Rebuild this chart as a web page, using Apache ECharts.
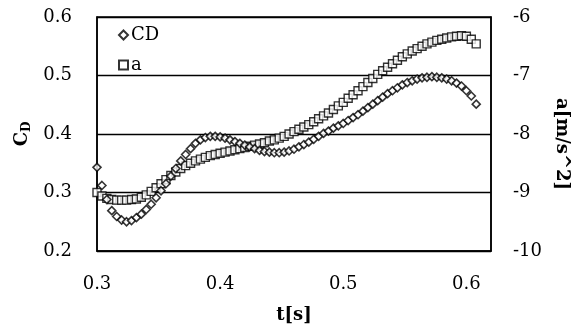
<!DOCTYPE html>
<html>
<head>
<meta charset="utf-8">
<script src="https://cdn.jsdelivr.net/npm/echarts@6/dist/echarts.min.js"></script>
<style>
  html, body { margin: 0; padding: 0; background: #fff; }
  #chart { width: 579px; height: 329px; }
</style>
</head>
<body>
<div id="chart"></div>
<script>
// Sample times [s], 4 ms step
const times = [
  0.300, 0.304, 0.308, 0.312, 0.316, 0.320, 0.324, 0.328, 0.332, 0.336,
  0.340, 0.344, 0.348, 0.352, 0.356, 0.360, 0.364, 0.368, 0.372, 0.376,
  0.380, 0.384, 0.388, 0.392, 0.396, 0.400, 0.404, 0.408, 0.412, 0.416,
  0.420, 0.424, 0.428, 0.432, 0.436, 0.440, 0.444, 0.448, 0.452, 0.456,
  0.460, 0.464, 0.468, 0.472, 0.476, 0.480, 0.484, 0.488, 0.492, 0.496,
  0.500, 0.504, 0.508, 0.512, 0.516, 0.520, 0.524, 0.528, 0.532, 0.536,
  0.540, 0.544, 0.548, 0.552, 0.556, 0.560, 0.564, 0.568, 0.572, 0.576,
  0.580, 0.584, 0.588, 0.592, 0.596, 0.600, 0.604, 0.608
];

// Drag coefficient C_D (left axis)
const cdValues = [
  0.343, 0.312, 0.288, 0.269, 0.259, 0.253, 0.250, 0.252, 0.257, 0.263,
  0.271, 0.280, 0.291, 0.303, 0.315, 0.328, 0.341, 0.354, 0.365, 0.375,
  0.384, 0.390, 0.394, 0.396, 0.396, 0.395, 0.393, 0.390, 0.387, 0.384,
  0.381, 0.378, 0.375, 0.372, 0.370, 0.369, 0.368, 0.368, 0.369, 0.371,
  0.374, 0.378, 0.382, 0.386, 0.391, 0.396, 0.401, 0.405, 0.410, 0.414,
  0.418, 0.423, 0.428, 0.433, 0.439, 0.445, 0.451, 0.457, 0.463, 0.469,
  0.474, 0.479, 0.484, 0.488, 0.491, 0.494, 0.496, 0.497, 0.498, 0.497,
  0.496, 0.494, 0.491, 0.487, 0.482, 0.474, 0.465, 0.451
];

// Acceleration a [m/s^2] (right axis)
const accValues = [
  -9.00, -9.06, -9.10, -9.12, -9.13, -9.13, -9.13, -9.12, -9.11, -9.08,
  -9.04, -8.98, -8.92, -8.85, -8.78, -8.71, -8.65, -8.59, -8.54, -8.50,
  -8.46, -8.43, -8.40, -8.37, -8.35, -8.33, -8.31, -8.29, -8.27, -8.25,
  -8.23, -8.21, -8.19, -8.17, -8.15, -8.12, -8.10, -8.07, -8.04, -8.00,
  -7.96, -7.92, -7.88, -7.84, -7.79, -7.74, -7.69, -7.64, -7.58, -7.52,
  -7.46, -7.39, -7.33, -7.26, -7.19, -7.12, -7.05, -6.98, -6.92, -6.86,
  -6.80, -6.74, -6.68, -6.63, -6.58, -6.54, -6.50, -6.46, -6.43, -6.40,
  -6.38, -6.36, -6.34, -6.33, -6.32, -6.33, -6.38, -6.46
];

const xTicks = [0.3, 0.4, 0.5, 0.6];
const seriesNames = ['CD', 'a'];

const FONT = 'DejaVu Serif';
const chart = echarts.init(document.getElementById('chart'), null, { renderer: 'canvas' });

const cdData = times.map((t, i) => [t, cdValues[i]]);
const accData = times.map((t, i) => [t, accValues[i]]);

chart.setOption({
  animation: false,
  backgroundColor: '#ffffff',
  textStyle: { fontFamily: FONT, color: '#000' },
  grid: {
    left: 97, right: 88, top: 17, bottom: 71,
    show: true, borderColor: '#000', borderWidth: 1.5, backgroundColor: 'transparent'
  },
  legend: {
    orient: 'vertical',
    left: 113, top: 21,
    itemWidth: 9, itemHeight: 9, itemGap: 12,
    textStyle: { fontFamily: FONT, fontSize: 18, color: '#000', lineHeight: 18, padding: [0, 0, 0, -2] },
    data: [
      { name: seriesNames[0], icon: 'diamond' },
      { name: seriesNames[1], icon: 'rect' }
    ]
  },
  xAxis: {
    type: 'value', min: 0.3, max: 0.62, interval: 0.1,
    name: 't[s]', nameLocation: 'middle', nameGap: 55,
    nameTextStyle: { fontFamily: FONT, fontSize: 18, fontWeight: 'bold', color: '#000' },
    axisLine: { show: true, lineStyle: { color: '#000', width: 1.5 } },
    axisTick: { show: false },
    splitLine: { show: false },
    axisLabel: {
      fontFamily: FONT, fontSize: 18, color: '#000', margin: 24,
      showMaxLabel: false,
      formatter: v => xTicks.some(t => Math.abs(t - v) < 1e-6) ? v.toFixed(1) : ''
    }
  },
  yAxis: [
    {
      type: 'value', min: 0.2, max: 0.6, interval: 0.1, position: 'left',
      name: 'C{sub|D}', nameLocation: 'middle', nameGap: 62, nameRotate: 90,
      nameTextStyle: {
        fontFamily: FONT, fontSize: 18, fontWeight: 'bold', color: '#000',
        rich: { sub: { fontFamily: FONT, fontSize: 12, fontWeight: 'bold', color: '#000', verticalAlign: 'bottom', padding: [8, 0, 0, 0] } }
      },
      axisLine: { show: true, lineStyle: { color: '#000', width: 1.5 } },
      axisTick: { show: false },
      splitLine: { show: true, lineStyle: { color: '#000', width: 1.3 } },
      axisLabel: { fontFamily: FONT, fontSize: 18, color: '#000', margin: 25, formatter: v => v.toFixed(1) }
    },
    {
      type: 'value', min: -10, max: -6, interval: 1, position: 'right',
      name: 'a[m/s^2]', nameLocation: 'middle', nameGap: 52, nameRotate: -90,
      nameTextStyle: { fontFamily: FONT, fontSize: 18, fontWeight: 'bold', color: '#000', padding: [0, 0, 0, 20] },
      axisLine: { show: true, lineStyle: { color: '#000', width: 1.5 } },
      axisTick: { show: false },
      splitLine: { show: false },
      axisLabel: { fontFamily: FONT, fontSize: 18, color: '#000', margin: 22, formatter: v => String(v) }
    }
  ],
  series: [
    {
      name: seriesNames[0], type: 'scatter', yAxisIndex: 0,
      symbol: 'diamond', symbolSize: 8,
      itemStyle: { color: '#fff', borderColor: '#000', borderWidth: 1.6 },
      data: cdData, z: 3
    },
    {
      name: seriesNames[1], type: 'scatter', yAxisIndex: 1,
      symbol: 'rect', symbolSize: 8,
      itemStyle: { color: '#fff', borderColor: '#000', borderWidth: 1.4 },
      data: accData, z: 2
    }
  ]
});
</script>
</body>
</html>
